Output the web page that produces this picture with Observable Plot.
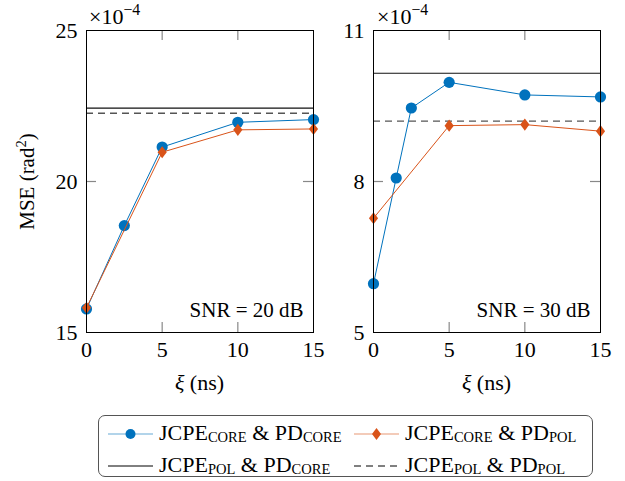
<!DOCTYPE html>
<html>
<head>
<meta charset="utf-8">
<script src="https://cdn.jsdelivr.net/npm/d3@7"></script>
<script src="https://cdn.jsdelivr.net/npm/@observablehq/plot@0.6"></script>
<style>
  html, body { margin: 0; padding: 0; background: #fff; }
  #wrap { position: relative; width: 625px; height: 481px; font-family: "Liberation Serif", "DejaVu Serif", serif; color: #000; }
  .panel { position: absolute; top: 0; }
  .panel text { font-family: "Liberation Serif", "DejaVu Serif", serif; }
  .exp { position: absolute; font-size: 22px; line-height: 1; white-space: nowrap; }
  .exp sup { font-size: 0.72em; vertical-align: 0.55em; line-height: 0; }
  #ylab { position: absolute; font-size: 21px; white-space: nowrap; transform-origin: center center; line-height: 1; }
  #ylab sup { font-size: 0.7em; vertical-align: 0.5em; line-height: 0; }
  .xlab { position: absolute; font-size: 22px; white-space: nowrap; transform: translateX(-50%); line-height: 1; }
  #legend { position: absolute; left: 98px; top: 415px; width: 495px; height: 62px; border: 1px solid #555; border-radius: 7px; box-sizing: border-box; }
  .lg { position: absolute; font-size: 22px; white-space: nowrap; line-height: 1; }
  .lg sub { font-size: 0.66em; vertical-align: -0.15em; line-height: 0; }
  .lgsym { position: absolute; }
</style>
</head>
<body>
<div id="wrap"></div>
<script>
// ---------- data ----------
const xTicks = [0, 5, 10, 15];

// SNR = 20 dB panel (values x 1e-4)
const leftYTicks = [15, 20, 25];
const leftXiCoreCore = [0, 2.5, 5, 10, 15];
const leftMseCoreCore = [15.78, 18.54, 21.14, 21.96, 22.05];
const leftXiCorePol = [0, 5, 10, 15];
const leftMseCorePol = [15.82, 20.97, 21.71, 21.74];
const leftPolCore = 22.43;
const leftPolPol = 22.26;

// SNR = 30 dB panel (values x 1e-4)
const rightYTicks = [5, 8, 11];
const rightXiCoreCore = [0, 1.5, 2.5, 5, 10, 15];
const rightMseCoreCore = [5.97, 8.07, 9.46, 9.97, 9.72, 9.68];
const rightXiCorePol = [0, 5, 10, 15];
const rightMseCorePol = [7.27, 9.11, 9.13, 9.0];
const rightPolCore = 10.15;
const rightPolPol = 9.2;

const snrLabels = ["SNR = 20 dB", "SNR = 30 dB"];

const blue = "#0072BD";
const orange = "#D95319";
const serif = '"Liberation Serif", "DejaVu Serif", serif';

const diamond = {
  draw(context, size) {
    const r = Math.sqrt(size / Math.PI);
    const w = r * 0.85, h = r * 1.12;
    context.moveTo(0, -h);
    context.lineTo(w, 0);
    context.lineTo(0, h);
    context.lineTo(-w, 0);
    context.closePath();
  }
};

function panel({width, marginLeft, marginRight, yTicks, cc, cp, polCore, polPol, snr}) {
  const height = 400, marginTop = 30, marginBottom = 68;
  const ymin = yTicks[0], ymax = yTicks[yTicks.length - 1];
  const plotW = width - marginLeft - marginRight;
  const plotH = height - marginTop - marginBottom;
  const tl = 10;
  const dyT = (ymax - ymin) * tl / plotH;
  const dxT = 15 * tl / plotW;
  const innerX = xTicks.filter(d => d > 0 && d < 15);
  const innerY = yTicks.filter(d => d > ymin && d < ymax);
  const ccData = cc.x.map((x, i) => ({x, y: cc.y[i]}));
  const cpData = cp.x.map((x, i) => ({x, y: cp.y[i]}));
  const tickStroke = "#888";
  return Plot.plot({
    width, height, marginLeft, marginRight, marginTop, marginBottom,
    style: {fontFamily: serif, fontSize: "22px", background: "none", overflow: "visible", color: "#000"},
    x: {domain: [0, 15]},
    y: {domain: [ymin, ymax]},
    marks: [
      Plot.ruleX(innerX, {x: d => d, y1: () => ymin, y2: () => ymin + dyT, stroke: tickStroke, strokeWidth: 1.2}),
      Plot.ruleX(innerX, {x: d => d, y1: () => ymax, y2: () => ymax - dyT, stroke: tickStroke, strokeWidth: 1.2}),
      Plot.ruleY(innerY, {y: d => d, x1: () => 0, x2: () => dxT, stroke: tickStroke, strokeWidth: 1.2}),
      Plot.ruleY(innerY, {y: d => d, x1: () => 15, x2: () => 15 - dxT, stroke: tickStroke, strokeWidth: 1.2}),
      Plot.ruleY([polCore], {y: d => d, stroke: "#111", strokeWidth: 1.1}),
      Plot.ruleY([polPol], {y: d => d, stroke: "#555", strokeWidth: 1.3, strokeDasharray: "7,5"}),
      Plot.line(ccData, {x: "x", y: "y", stroke: blue, strokeWidth: 1}),
      Plot.dot(ccData, {x: "x", y: "y", r: 5.6, fill: blue, stroke: "none"}),
      Plot.line(cpData, {x: "x", y: "y", stroke: orange, strokeWidth: 1}),
      Plot.dot(cpData, {x: "x", y: "y", r: 5.4, symbol: diamond, fill: orange, stroke: "none"}),
      Plot.text([snr], {frameAnchor: "bottom-right", text: d => d, textAnchor: "end", lineAnchor: "middle", dx: -10, dy: -22, fontSize: 21, fontFamily: serif}),
      Plot.axisX({ticks: xTicks, tickFormat: d3.format("d"), tickSize: 0, tickPadding: 9, label: null, fontSize: 22, fontFamily: serif}),
      Plot.axisY({ticks: yTicks, tickFormat: d3.format("d"), tickSize: 0, tickPadding: 9, label: null, fontSize: 22, fontFamily: serif}),
      Plot.frame({stroke: "#000", strokeWidth: 1})
    ]
  });
}

const wrap = document.getElementById("wrap");

const left = panel({
  width: 320, marginLeft: 86, marginRight: 7, yTicks: leftYTicks,
  cc: {x: leftXiCoreCore, y: leftMseCoreCore}, cp: {x: leftXiCorePol, y: leftMseCorePol},
  polCore: leftPolCore, polPol: leftPolPol, snr: snrLabels[0]
});
left.classList.add("panel");
left.style.left = "0px";
wrap.appendChild(left);

const right = panel({
  width: 305, marginLeft: 53, marginRight: 25, yTicks: rightYTicks,
  cc: {x: rightXiCoreCore, y: rightMseCoreCore}, cp: {x: rightXiCorePol, y: rightMseCorePol},
  polCore: rightPolCore, polPol: rightPolPol, snr: snrLabels[1]
});
right.classList.add("panel");
right.style.left = "320px";
wrap.appendChild(right);

function addHTML(html, cls, styles) {
  const d = document.createElement("div");
  d.className = cls;
  d.innerHTML = html;
  Object.assign(d.style, styles);
  wrap.appendChild(d);
  return d;
}
addHTML("×10<sup>−4</sup>", "exp", {left: "89px", top: "6px"});
addHTML("×10<sup>−4</sup>", "exp", {left: "377px", top: "6px"});

// y label
const yl = addHTML("MSE (rad<sup>2</sup>)", "", {});
yl.id = "ylab";
const ylw = yl.getBoundingClientRect().width;
const ylh = yl.getBoundingClientRect().height;
yl.style.left = (27 - ylw / 2) + "px";
yl.style.top = (181 - ylh / 2) + "px";
yl.style.transform = "rotate(-90deg)";

// x labels
addHTML("<i>ξ</i> (ns)", "xlab", {left: "199.5px", top: "372px"});
addHTML("<i>ξ</i> (ns)", "xlab", {left: "486.5px", top: "372px"});

// legend
const legend = document.createElement("div");
legend.id = "legend";
wrap.appendChild(legend);

const legendItems = [
  {col: 0, row: 0, color: blue, mark: "circle", dash: null, lw: 1.2, text: "JCPE<sub>CORE</sub> &amp; PD<sub>CORE</sub>"},
  {col: 1, row: 0, color: orange, mark: "diamond", dash: null, lw: 1.2, text: "JCPE<sub>CORE</sub> &amp; PD<sub>POL</sub>"},
  {col: 0, row: 1, color: "#000", mark: null, dash: null, lw: 1, text: "JCPE<sub>POL</sub> &amp; PD<sub>CORE</sub>"},
  {col: 1, row: 1, color: "#000", mark: null, dash: "7,5", lw: 1, text: "JCPE<sub>POL</sub> &amp; PD<sub>POL</sub>"}
];
const colX = [8, 254];
const rowY = [18, 50];
for (const it of legendItems) {
  const sx = colX[it.col], cy = rowY[it.row];
  const svg = document.createElementNS("http://www.w3.org/2000/svg", "svg");
  svg.setAttribute("width", 48); svg.setAttribute("height", 16);
  svg.classList.add("lgsym");
  svg.style.left = sx + "px"; svg.style.top = (cy - 8) + "px";
  const ln = document.createElementNS("http://www.w3.org/2000/svg", "line");
  ln.setAttribute("x1", 1); ln.setAttribute("x2", 46); ln.setAttribute("y1", 8); ln.setAttribute("y2", 8);
  ln.setAttribute("stroke", it.color); ln.setAttribute("stroke-width", it.lw);
  if (it.mark) ln.setAttribute("stroke-opacity", 0.6);
  if (it.dash) ln.setAttribute("stroke-dasharray", it.dash);
  svg.appendChild(ln);
  if (it.mark === "circle") {
    const c = document.createElementNS("http://www.w3.org/2000/svg", "circle");
    c.setAttribute("cx", 23.5); c.setAttribute("cy", 8); c.setAttribute("r", 5); c.setAttribute("fill", it.color);
    svg.appendChild(c);
  } else if (it.mark === "diamond") {
    const p = document.createElementNS("http://www.w3.org/2000/svg", "path");
    p.setAttribute("d", "M23.5,2 L28,8 L23.5,14 L19,8 Z"); p.setAttribute("fill", it.color);
    svg.appendChild(p);
  }
  legend.appendChild(svg);
  const t = document.createElement("div");
  t.className = "lg";
  t.innerHTML = it.text;
  t.style.left = (sx + 52) + "px";
  t.style.top = (cy - 12) + "px";
  legend.appendChild(t);
}
</script>
</body>
</html>
